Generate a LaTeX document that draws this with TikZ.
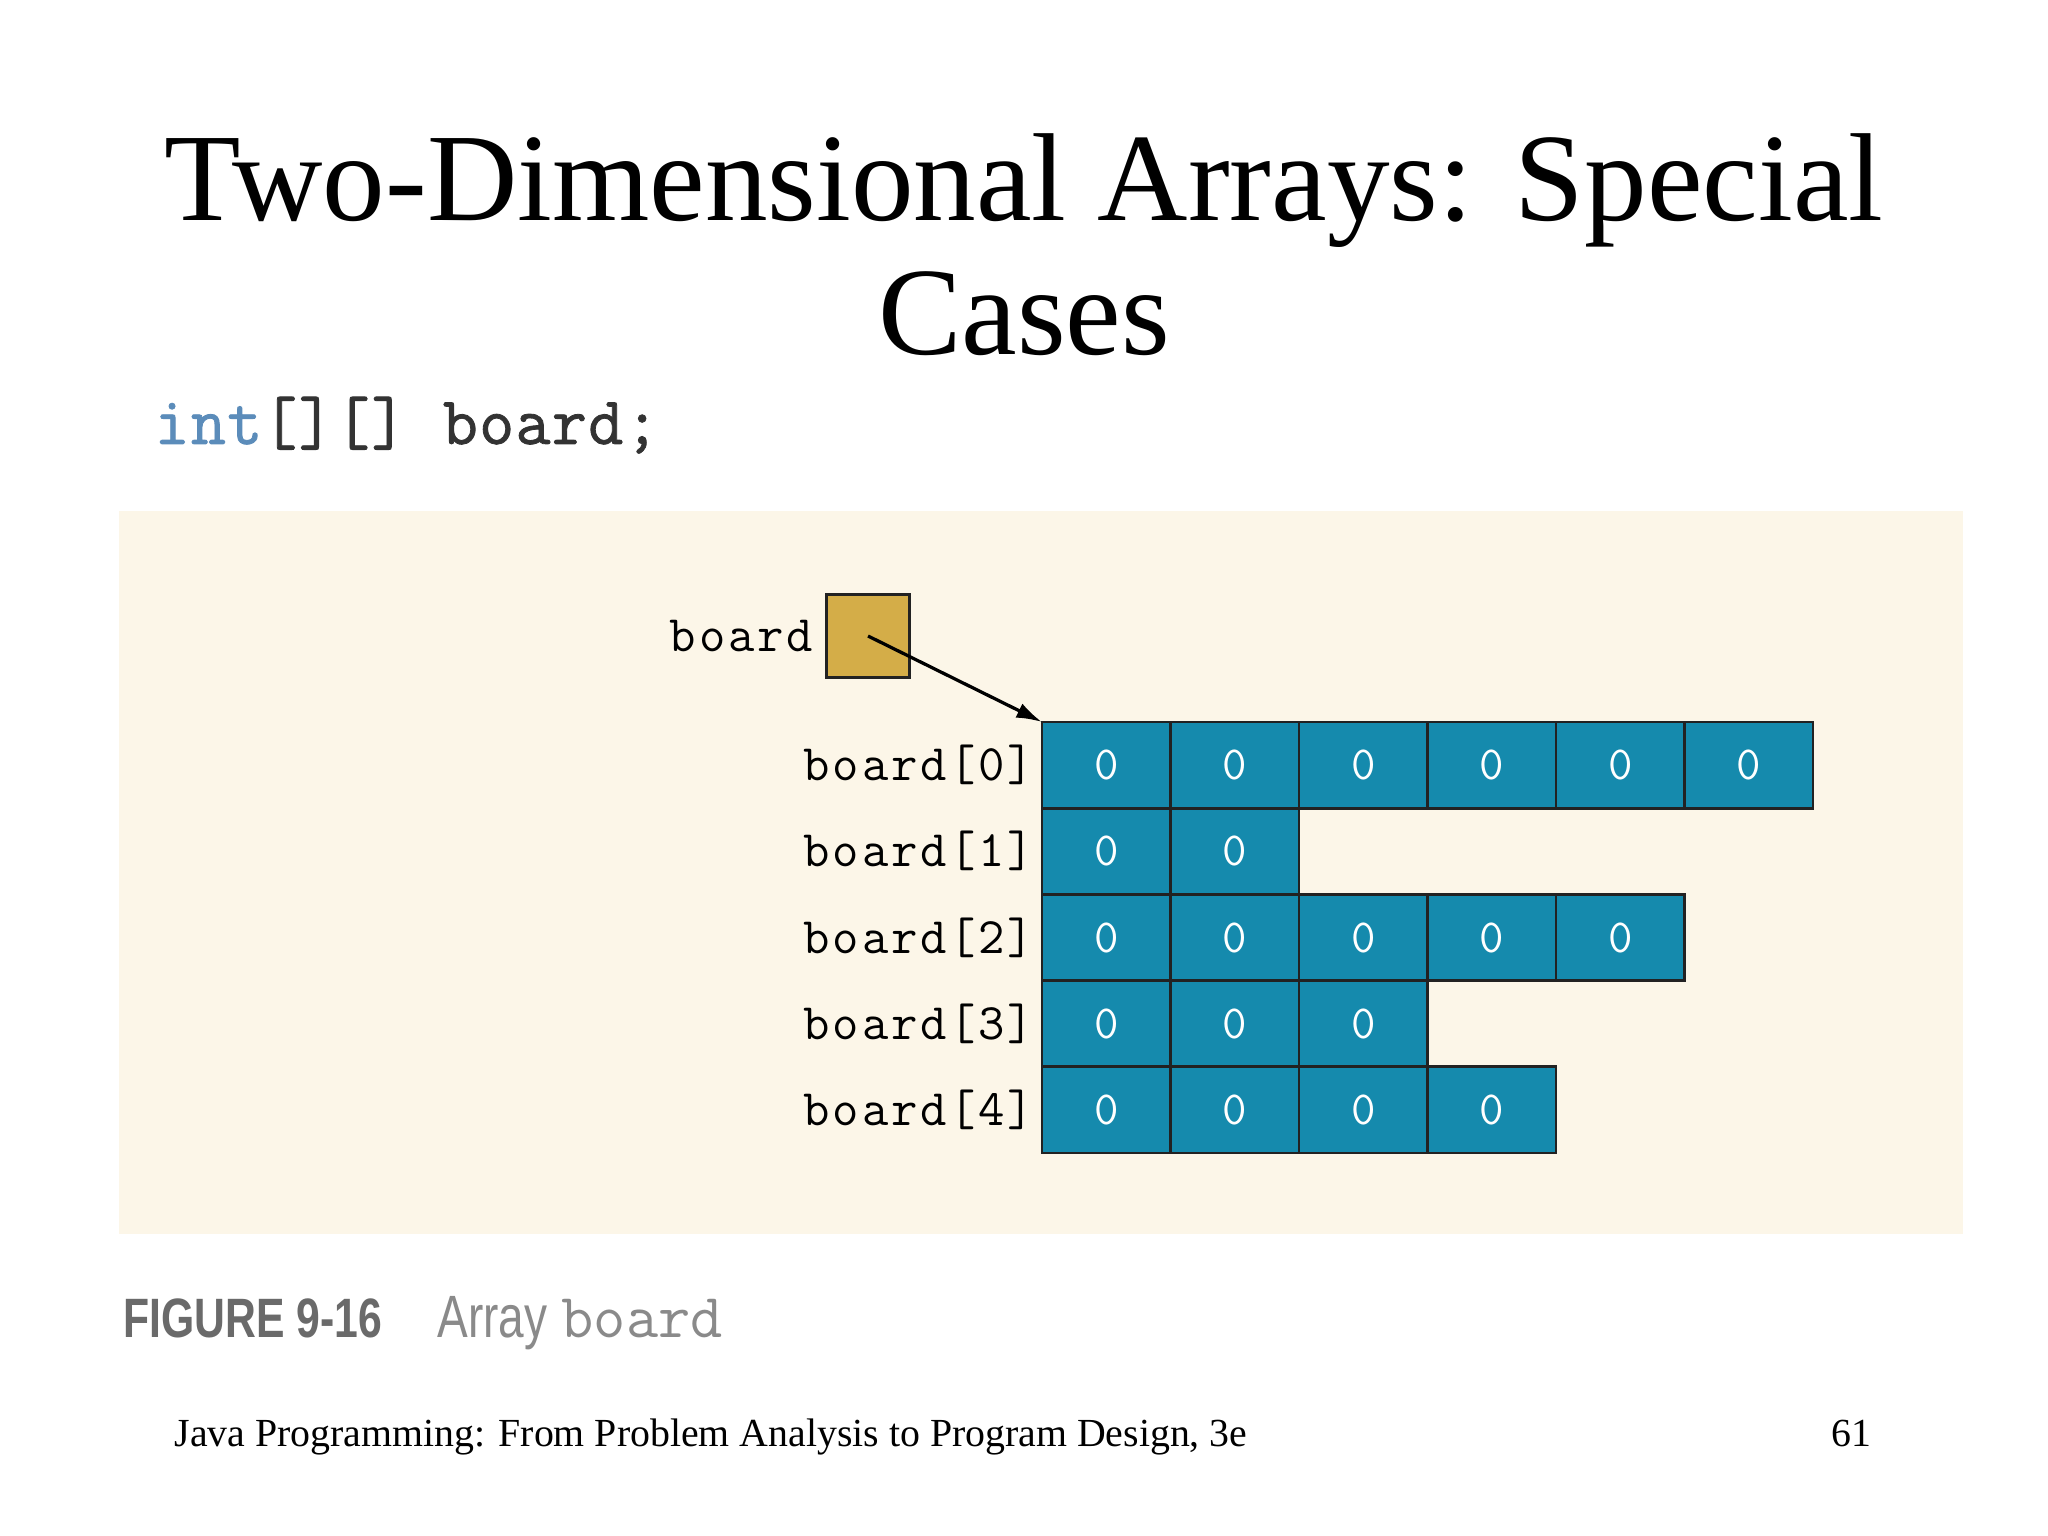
\documentclass[tikz,border=0pt]{standalone}
\usepackage{fontspec}
\setmainfont{Liberation Serif}
\setsansfont{Liberation Sans}
\newfontfamily\narrowsans[FakeStretch=0.77]{Liberation Sans}
\newfontfamily\codefont[LetterSpace=2, FakeBold=1.2]{Latin Modern Mono}
\newfontfamily\lblfont[LetterSpace=5.5]{Latin Modern Mono}
\usepackage{tikz}
\usetikzlibrary{arrows.meta, positioning}
\definecolor{panelbg}{HTML}{FCF6E8}
\definecolor{refgold}{HTML}{D4AD48}
\definecolor{cellteal}{HTML}{158AAD}
\definecolor{celledge}{HTML}{222222}
\definecolor{codeblue}{HTML}{5B8CBA}
\definecolor{codegray}{HTML}{333333}
\definecolor{capgray}{HTML}{6A6A6A}
\definecolor{capsoft}{HTML}{8A8A8A}
\tikzset{
  slidetitle/.style={font=\fontsize{44}{47}\selectfont, anchor=base, inner sep=0pt},
  foot/.style={font=\fontsize{14}{16}\selectfont, inner sep=0pt},
  code/.style={font=\codefont\fontsize{23.9}{26}\selectfont, text=codegray,
               anchor=base west, inner sep=0pt},
  lbl/.style={font=\lblfont\fontsize{18}{20}\selectfont, inner sep=0pt},
  refbox/.style={draw=celledge, fill=refgold, line width=0.95pt,
                 minimum size=29.3pt, inner sep=0pt},
  cell/.style={draw=celledge, fill=cellteal, line width=0.95pt,
               minimum width=45.2pt, minimum height=30.3pt, inner sep=0pt,
               outer sep=0pt, text=white, font=\ttfamily\fontsize{16.7}{18}\selectfont},
  pointer/.style={-{Latex[length=9pt,width=5.5pt]}, line width=1.15pt, draw=black},
  captext/.style={anchor=base west, inner sep=0pt},
}

\begin{document}
\begin{tikzpicture}[x=0.35156pt, y=-0.35156pt]
  \useasboundingbox (0,0) rectangle (2048,1536);
  \fill[white] (0,0) rectangle (2048,1536);

  % slide title and declaration
  \node[slidetitle] (title) at (1024,221) {Two-Dimensional Arrays: Special};
  \node[slidetitle] (titlecont) at (1024,355) {Cases};
  \node[code] (decl) at (154,444) {\textcolor{codeblue}{int}[][] board;};

  % figure panel
  \fill[panelbg] (119,511) rectangle (1963,1234);

  \node[refbox] (boardref) at (868,636) {};
  \node[lbl, left=4pt of boardref] (boardname) {board};

  \foreach \r/\n in {0/6,1/2,2/5,3/3,4/4} {
    \foreach \c in {1,...,\n}
      \node[cell] (c\r-\c) at ({1042+128.5*(\c-0.5)},{722+86.2*(\r+0.5)}) {0};
    \node[lbl, left=2.5pt of c\r-1] (row\r) {board[\r]};
  }

  \draw[pointer] (boardref.center) -- (c0-1.north west);

  % caption
  \node[captext, text=capgray, font=\narrowsans\bfseries\fontsize{19.5}{22}\selectfont]
    (fignum) at (123,1337) {FIGURE 9-16};
  \node[captext, text=capsoft] (figtitle) at (437,1337)
    {{\narrowsans\fontsize{21}{24}\selectfont Array}\hspace{5pt}{\ttfamily\fontsize{22}{24}\selectfont board}};

  % footer
  \node[foot, anchor=base west] (footer) at (174,1446)
    {Java Programming: From Problem Analysis to Program Design, 3e};
  \node[foot, anchor=base east] (pagenum) at (1872,1446) {61};
\end{tikzpicture}
\end{document}
